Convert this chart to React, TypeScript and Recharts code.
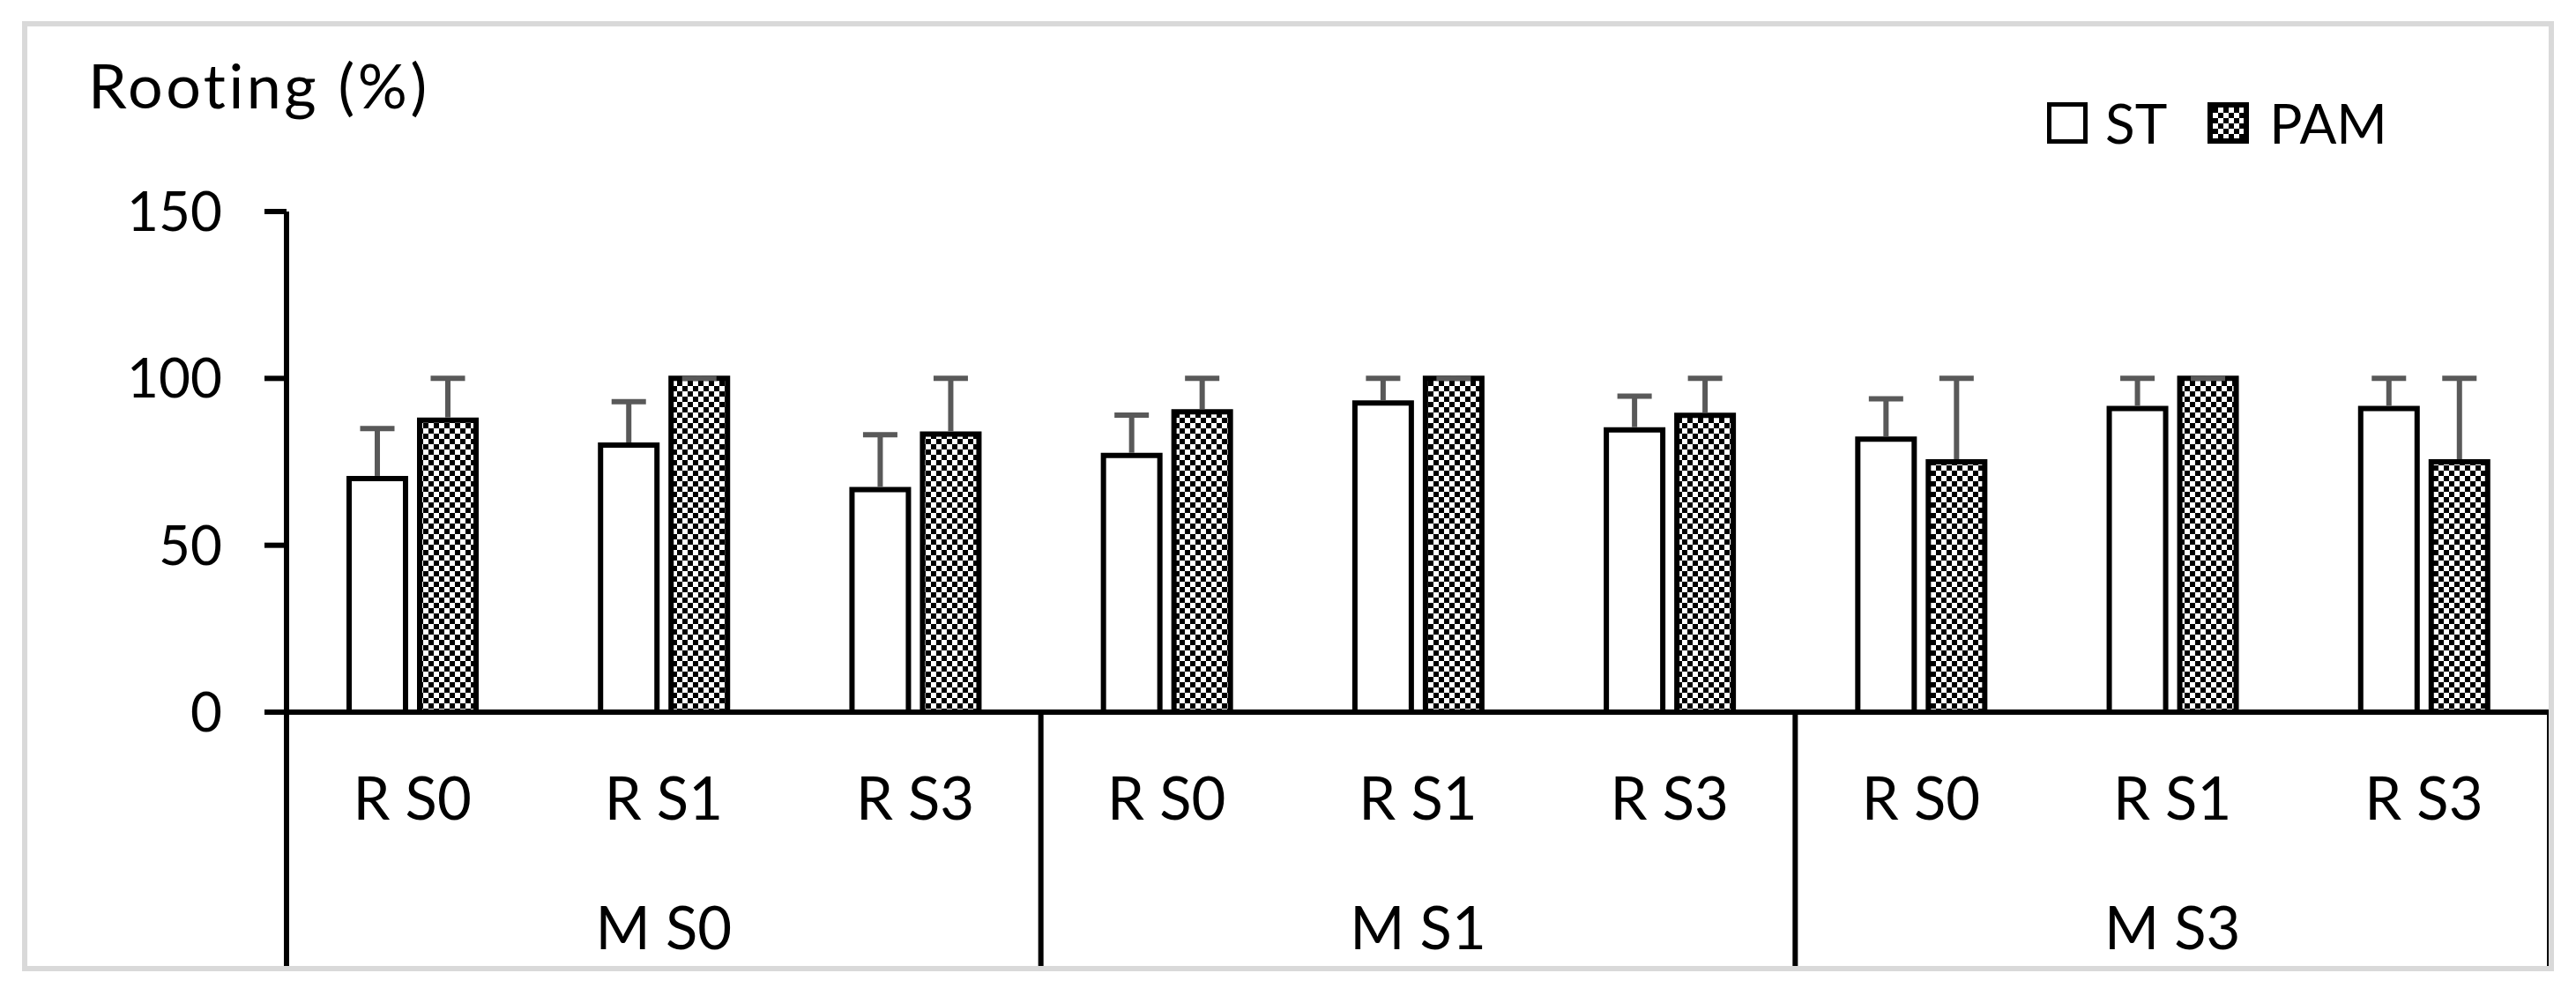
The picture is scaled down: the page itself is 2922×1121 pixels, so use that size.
import React from 'react';
import { BarChart, Bar, XAxis, YAxis, Legend } from 'recharts';

const groups = ['M S0', 'M S1', 'M S3'];
const subs = ['R S0', 'R S1', 'R S3'];
const yTicks = [0, 50, 100, 150];

// mean rooting and upper error, per category (groups x subs)
const stValues = [70, 80, 66.7, 76.9, 92.6, 84.6, 81.8, 91, 91];
const stErrors = [15, 13, 16.4, 12.1, 7.4, 10.1, 12.1, 9, 9];
const pamValues = [87.5, 100, 83.3, 90, 100, 88.9, 75, 100, 75];
const pamErrors = [12.5, 0, 16.7, 10, 0, 11.1, 25, 0, 25];

const data = groups.flatMap((g, gi) =>
  subs.map((s, si) => {
    const i = gi * subs.length + si;
    return {
      key: `${g}|${s}`,
      st: stValues[i],
      stErr: stErrors[i],
      pam: pamValues[i],
      pamErr: pamErrors[i],
    };
  })
);

const FONT = 'Lato, "Open Sans", sans-serif';
const ERR_COLOR = '#595959';

const CheckerDefs = ({ id }: { id: string }) => (
  <defs>
    <pattern id={id} width={12} height={12} patternUnits="userSpaceOnUse">
      <rect width={12} height={12} fill="#fff" />
      <rect width={6} height={6} fill="#000" />
      <rect x={6} y={6} width={6} height={6} fill="#000" />
    </pattern>
  </defs>
);

// upper-only error bar drawn on a stacked bar segment
const ErrorShape = (props: any) => {
  const { x, y, width, height } = props;
  if (x == null || y == null) return null;
  const cx = x + width / 2;
  return (
    <g>
      <line x1={cx} x2={cx} y1={y + height - 3} y2={y} stroke={ERR_COLOR} strokeWidth={6} />
      <line x1={cx - 19.5} x2={cx + 19.5} y1={y} y2={y} stroke={ERR_COLOR} strokeWidth={6} />
    </g>
  );
};

const CategoryTick = (props: any) => {
  const { x, y, payload, index, width, visibleTicksCount } = props;
  const band = width / visibleTicksCount;
  const [grp, sub] = String(payload.value).split('|');
  const last = visibleTicksCount - 1;
  return (
    <g>
      <text x={x} y={y + 96} textAnchor="middle" dominantBaseline="central"
        fontFamily={FONT} fontSize={67} fill="#000">{sub}</text>
      {index % 3 === 1 && (
        <text x={x} y={y + 243} textAnchor="middle" dominantBaseline="central"
          fontFamily={FONT} fontSize={67} fill="#000">{grp}</text>
      )}
      {index % 3 === 0 && (
        <line x1={x - band / 2} x2={x - band / 2} y1={y} y2={y + 290} stroke="#000" strokeWidth={6} />
      )}
      {index === last && (
        <line x1={x + band / 2} x2={x + band / 2} y1={y} y2={y + 290} stroke="#000" strokeWidth={6} />
      )}
    </g>
  );
};

const LegendContent = () => (
  <div style={{ display: 'flex', alignItems: 'center', fontFamily: FONT, fontSize: 62, lineHeight: 1, color: '#000' }}>
    <svg width={46} height={47}>
      <rect x={2.5} y={2.5} width={41} height={42} fill="#fff" stroke="#000" strokeWidth={5} />
    </svg>
    <span style={{ marginLeft: 20 }}>ST</span>
    <svg width={47} height={47} style={{ marginLeft: 46 }}>
      <CheckerDefs id="checkerLegend" />
      <rect x={3} y={3} width={41} height={41} fill="url(#checkerLegend)" stroke="#000" strokeWidth={6} />
    </svg>
    <span style={{ marginLeft: 23 }}>PAM</span>
  </div>
);

const TitleLabel = (props: any) => {
  const { viewBox } = props;
  return (
    <text x={viewBox.x + 100} y={viewBox.y - 117} fontFamily={FONT} fontSize={70}
      letterSpacing={3.5} fill="#000">
      Rooting (%)
    </text>
  );
};

export default function App() {
  return (
    <div style={{ position: 'absolute', left: 0, top: 0, width: 2922, height: 1121, background: '#fff' }}>
      <BarChart
        width={2922}
        height={1121}
        data={data}
        margin={{ top: 240, right: 30, bottom: 23, left: 0 }}
        barGap={16}
      >
        <CheckerDefs id="checker" />
        <XAxis
          dataKey="key"
          height={290}
          interval={0}
          tickLine={false}
          tickSize={0}
          tickMargin={0}
          axisLine={{ stroke: '#000', strokeWidth: 6 }}
          tick={<CategoryTick />}
        />
        <YAxis
          width={325}
          domain={[0, 150]}
          ticks={yTicks}
          interval={0}
          tickSize={25}
          tickMargin={48}
          axisLine={{ stroke: '#000', strokeWidth: 6 }}
          tickLine={{ stroke: '#000', strokeWidth: 6 }}
          tick={{ fill: '#000', fontSize: 62, fontFamily: FONT }}
          label={<TitleLabel />}
        />
        <Legend
          verticalAlign="middle"
          layout="horizontal"
          content={<LegendContent />}
          wrapperStyle={{ left: 2322, top: 108, width: 460, height: 60 }}
        />
        <Bar dataKey="st" stackId="st" barSize={64} fill="#fff" stroke="#000" strokeWidth={6} isAnimationActive={false} />
        <Bar dataKey="stErr" stackId="st" barSize={64} shape={<ErrorShape />} isAnimationActive={false} />
        <Bar dataKey="pam" stackId="pam" barSize={64} fill="url(#checker)" stroke="#000" strokeWidth={6} isAnimationActive={false} />
        <Bar dataKey="pamErr" stackId="pam" barSize={64} shape={<ErrorShape />} isAnimationActive={false} />
      </BarChart>
      <div
        style={{
          position: 'absolute', left: 25, top: 24, width: 2872, height: 1078,
          border: '6px solid #d9d9d9', boxSizing: 'border-box', pointerEvents: 'none',
        }}
      />
    </div>
  );
}
